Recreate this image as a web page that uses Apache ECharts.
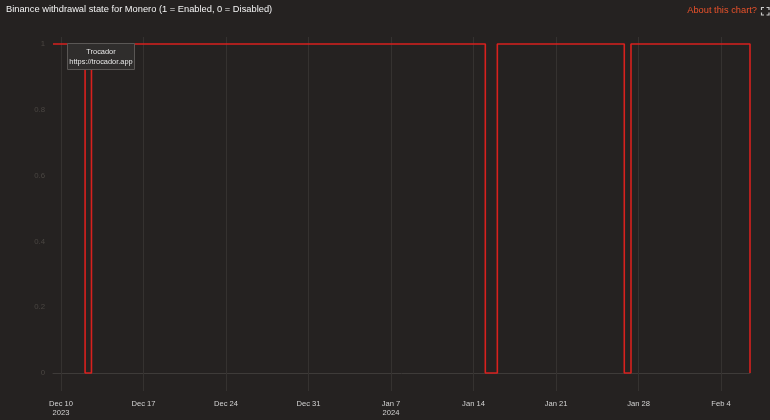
<!DOCTYPE html>
<html>
<head>
<meta charset="utf-8">
<script src="https://cdn.jsdelivr.net/npm/echarts@6/dist/echarts.min.js"></script>
<style>
html,body{margin:0;padding:0;background:#252221;}
#c{width:770px;height:420px;}
</style>
</head>
<body>
<div id="c"></div>
<script>
// Withdrawal state change points [local date-time, state]
var changeTimes = [
  [2023, 11, 9, 7, 40],
  [2023, 11, 12, 1, 0],
  [2023, 11, 12, 14, 0],
  [2024, 0, 15, 0, 0],
  [2024, 0, 16, 0, 30],
  [2024, 0, 26, 19, 0],
  [2024, 0, 27, 8, 40],
  [2024, 1, 6, 11, 0]
];
var states = [1, 0, 1, 0, 1, 0, 1, 0];
var tickDates = [
  [2023, 11, 10], [2023, 11, 17], [2023, 11, 24], [2023, 11, 31],
  [2024, 0, 7], [2024, 0, 14], [2024, 0, 21], [2024, 0, 28], [2024, 1, 4]
];
var yTicks = [0, 0.2, 0.4, 0.6, 0.8, 1];

var months = ['Jan','Feb','Mar','Apr','May','Jun','Jul','Aug','Sep','Oct','Nov','Dec'];
function ts(a){ return new Date(a[0], a[1], a[2], a[3]||0, a[4]||0).getTime(); }
var data = changeTimes.map(function(t, i){ return [ts(t), states[i]]; });
var tickVals = tickDates.map(ts);
var xmin = data[0][0], xmax = data[data.length-1][0];
var FONT = 'Liberation Sans, Arial, sans-serif';

var chart = echarts.init(document.getElementById('c'));
chart.setOption({
  backgroundColor: '#252221',
  animation: false,
  textStyle: { fontFamily: FONT },
  grid: { left: 53, right: 20, top: 37, bottom: 47 },
  xAxis: {
    type: 'value',
    min: xmin,
    max: xmax,
    axisLine: { show: true, lineStyle: { color: '#3e3b39', width: 1 } },
    axisTick: { show: true, length: 18, lineStyle: { color: '#353230' }, customValues: tickVals },
    splitLine: { show: true, lineStyle: { color: '#353230', width: 1 } },
    axisLabel: {
      customValues: tickVals,
      showMinLabel: true,
      showMaxLabel: true,
      color: '#d4d4d4',
      fontSize: 7.6,
      margin: 26,
      lineHeight: 9.5,
      formatter: function(v){
        var d = new Date(v);
        var s = months[d.getMonth()] + ' ' + d.getDate();
        var idx = tickVals.indexOf(v);
        if (idx === 0 || (d.getMonth() === 0 && d.getDate() <= 7)) {
          s += '\n' + d.getFullYear();
        }
        return s;
      }
    }
  },
  yAxis: {
    type: 'value',
    min: 0,
    max: 1.0213,
    axisLine: { show: false },
    axisTick: { show: false },
    splitLine: { show: false },
    axisLabel: {
      customValues: yTicks,
      color: '#4a4642',
      fontSize: 7.8,
      margin: 8,
      formatter: function(v){ return String(Math.round(v * 10) / 10); }
    }
  },
  series: [{
    type: 'line',
    step: 'end',
    data: data,
    showSymbol: false,
    z: 2,
    lineStyle: { color: '#d8211e', width: 1.6 },
    clip: false
  }],
  graphic: [
    { type: 'text', left: 6, top: 5, style: { text: 'Binance withdrawal state for Monero (1 = Enabled, 0 = Disabled)', fill: '#f4f4f4', font: '9.3px ' + FONT } },
    { type: 'text', right: 13, top: 6, style: { text: 'About this chart?', fill: '#ea522b', font: '9.3px ' + FONT } },
    { type: 'group', left: 759, top: 5, children: [
      { type: 'polyline', shape: { points: [[0,2.5],[0,0],[2.5,0]] }, style: { stroke: '#cccccc', lineWidth: 1.2, fill: null } },
      { type: 'polyline', shape: { points: [[5,0],[7.5,0],[7.5,2.5]] }, style: { stroke: '#cccccc', lineWidth: 1.2, fill: null } },
      { type: 'polyline', shape: { points: [[0,5],[0,7.5],[2.5,7.5]] }, style: { stroke: '#cccccc', lineWidth: 1.2, fill: null } },
      { type: 'polyline', shape: { points: [[5,7.5],[7.5,7.5],[7.5,5]] }, style: { stroke: '#cccccc', lineWidth: 1.2, fill: null } }
    ] },
    { type: 'group', left: 67, top: 43, z: 100, children: [
      { type: 'rect', z: 100, shape: { x: 0, y: 0, width: 67, height: 26 }, style: { fill: '#2f2d2c', stroke: '#5a5755', lineWidth: 1 } },
      { type: 'text', z: 101, style: { x: 33.5, y: 4.5, text: 'Trocador', fill: '#e8e8e8', align: 'center', font: '7.4px ' + FONT } },
      { type: 'text', z: 101, style: { x: 33.5, y: 14.5, text: 'https://trocador.app', fill: '#e8e8e8', align: 'center', font: '7.4px ' + FONT } }
    ] }
  ]
});
</script>
</body>
</html>
